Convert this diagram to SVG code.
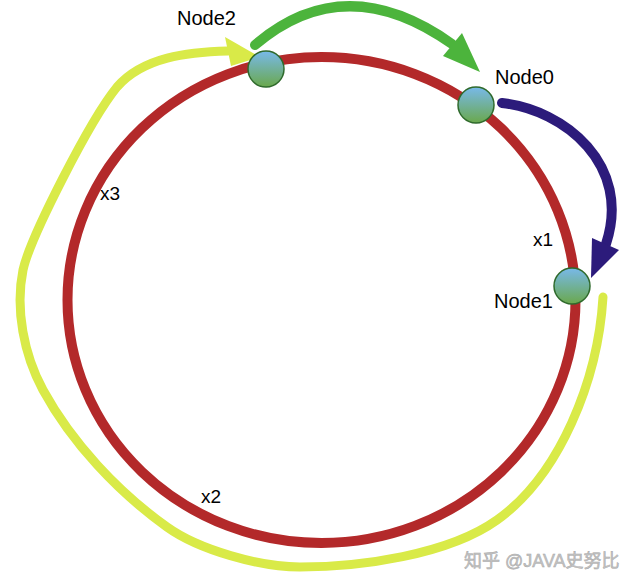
<svg xmlns="http://www.w3.org/2000/svg" width="640" height="586" viewBox="0 0 640 586">
  <defs>
    <linearGradient id="nodeGrad" x1="0" y1="0" x2="0" y2="1">
      <stop offset="0" stop-color="#78b9ea"/>
      <stop offset="1" stop-color="#6aa84c"/>
    </linearGradient>
    <style>
      .node { fill: url(#nodeGrad); stroke: #2f6a2c; stroke-width: 1.5; }
      .lbl { font-family: "Liberation Sans", Arial, sans-serif; font-size: 20px; fill: #000; }
      .xl { font-family: "Liberation Sans", Arial, sans-serif; font-size: 19px; fill: #000; }
      .wm { font-family: "Liberation Sans", "Noto Sans CJK SC", sans-serif; font-size: 18px; fill: #c4c4c4; stroke: #a8a8a8; stroke-width: 0.5; }
      .conn { fill: none; stroke-linecap: round; }
    </style>
  </defs>
  <rect width="640" height="586" fill="#ffffff"/>

  <g id="ring">
    <ellipse cx="321.5" cy="300" rx="254" ry="243" fill="none" stroke="#b3292a" stroke-width="10"/>
  </g>

  <g id="connectors">
    <path class="conn" d="M 603 297 C 598 380 560 475 497 520 C 448 555 360 567 300 567 C 260 567 199 550 167 527 C 118 492 72 443 43 390 C 24 355 15 309 23 270 C 30 238 90 120 117 87 C 143 57 188 52 228 51" stroke="#d9ea48" stroke-width="9"/>
    <polygon points="225,37 231,66 260,57" fill="#d9ea48"/>
    <path class="conn" d="M 255 45 Q 345 -32 452 44" stroke="#4cb43c" stroke-width="10"/>
    <polygon points="462,33 443,56 480,72" fill="#4cb43c"/>
    <path class="conn" d="M 502 103 C 565 110 632 165 606 244" stroke="#2c1b7b" stroke-width="10"/>
    <polygon points="592,238 619,250 591,278" fill="#2c1b7b"/>
  </g>

  <g id="node2">
    <circle class="node" cx="266" cy="69" r="18"/>
    <text class="lbl" x="177" y="25">Node2</text>
  </g>
  <g id="node0">
    <circle class="node" cx="476" cy="105" r="18"/>
    <text class="lbl" x="495" y="84">Node0</text>
  </g>
  <g id="node1">
    <circle class="node" cx="572" cy="286" r="18"/>
    <text class="lbl" x="494" y="308">Node1</text>
  </g>

  <g id="labels">
    <text class="xl" x="533" y="246">x1</text>
    <text class="xl" x="100" y="200">x3</text>
    <text class="xl" x="201" y="503">x2</text>
  </g>

  <text class="wm" x="464" y="567">知乎 @JAVA史努比</text>
</svg>
